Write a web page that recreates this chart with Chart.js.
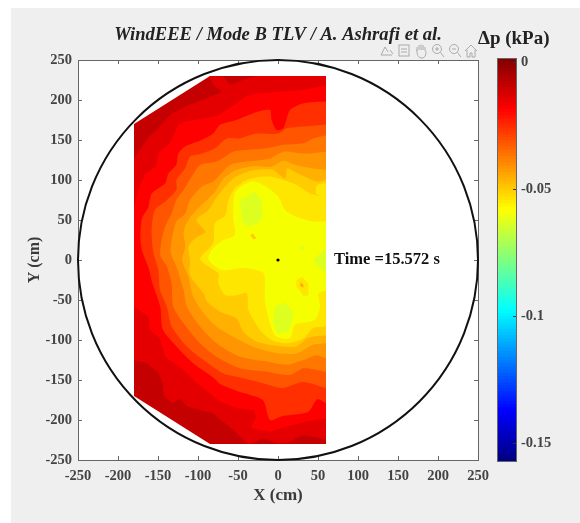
<!DOCTYPE html>
<html><head><meta charset="utf-8">
<script src="https://cdn.jsdelivr.net/npm/chart.js@4"></script>
<style>
html,body{margin:0;padding:0;background:#fff;width:580px;height:523px;overflow:hidden}
#bg{position:absolute;left:11px;top:8px;width:569px;height:515px;background:#efefef}
canvas{position:absolute;top:0;filter:blur(0.45px)}
#main{left:0}
#cbar{left:478px}
#tools{position:absolute;left:380px;top:43px;filter:blur(0.3px)}
</style></head><body>
<div id="bg"></div>
<canvas id="main" width="556" height="523" style="width:556px;height:523px"></canvas>
<canvas id="cbar" width="102" height="523" style="width:102px;height:523px"></canvas>
<svg id="tools" width="98" height="16" fill="none" stroke="#aaaaaa" stroke-width="1">
 <path d="M1 12 L5 4 L8 9 M1 12 H12 M10 7 l3 4"/>
 <g transform="translate(17,0)"><rect x="2" y="2" width="10" height="11"/><path d="M4 6H10M4 9H10"/></g>
 <g transform="translate(34,0)"><path d="M3 8 V4 M5 7 V2 M7 7 V1.5 M9 7 V2 M11 8 V4 M3 8 L2 7 M3 8 C3 13 5 15 8 15 C11 15 12 12 12 8"/></g>
 <g transform="translate(51,0)"><circle cx="6" cy="6" r="4.5"/><path d="M9.5 9.5L13 14M4 6H8M6 4V8"/></g>
 <g transform="translate(68,0)"><circle cx="6" cy="6" r="4.5"/><path d="M9.5 9.5L13 14M4 6H8"/></g>
 <g transform="translate(84,0)"><path d="M1 8 L7 2 L13 8 M3 7V14H6V10H8V14H11V7"/></g>
</svg>
<script>
// ---- text ----
const titleText = "WindEEE / Mode B TLV / A. Ashrafi et al.";
const xTitle = "X (cm)", yTitle = "Y (cm)", barTitle = "\u0394p (kPa)", timeText = "Time =15.572 s";
const timeAnchor = [70, 0];
const axisTicks = [-250,-200,-150,-100,-50,0,50,100,150,200,250];
const barTicks = [-0.15,-0.1,-0.05,0];
const centrePoint = [[0,0]];
const tunnelRadius = 250;

// ---- contour regions (x cm, y cm), lowest |dp| first ----
const bandA = [[-180,170],[-85,230],[60,230],[60,-230],[-85,-230],[-180,-170]];
const bandB = [[60,230],[-27,230],[-39,227],[-60,219],[-67.5,229],[-86,230],[-81,219],[-70,210],[-95,200],[-116,192],[-133,183],[-150,164.6],[-162,153],[-170,142],[-180,127],[-180,-125],[-164,-129],[-150,-140],[-144,-154],[-143,-169],[-133,-179],[-122.5,-173],[-114,-183],[-81,-192],[-72.5,-199],[-56,-212.5],[-37.5,-230],[-31,-229],[-19,-222.5],[-1,-229],[11,-229],[31,-219],[49,-222],[60,-225]];
const bandC = [[60,217.5],[27.5,212.5],[-1.7,210],[-27,208],[-41,204],[-58,192],[-74.6,181],[-93,177],[-116,173],[-124.6,169],[-135,146],[-150,133],[-152,117],[-166,108],[-175,87.5],[-180,65],[-180,-58],[-162,-71],[-160,-87.5],[-147.5,-98],[-141,-121],[-122,-134],[-100,-155],[-72.5,-177],[-52,-185],[-31,-187.5],[-27.5,-196],[-34,-210],[-10,-214.6],[11,-208],[36,-202],[60,-198]];
const bandD = [[60,198],[32,196],[15,187.5],[6.7,164.6],[-1.7,162.5],[-8,175],[-10,187.5],[-27,185],[-52,175],[-72.5,169],[-81,158],[-95.4,150],[-116,142],[-124.6,133],[-127,119],[-137,108],[-141,96],[-158,83],[-162,66],[-170,52],[-172,29],[-170,12],[-162,-9],[-157,-29],[-147,-59],[-144,-87],[-126,-109],[-106,-129],[-81,-147],[-72.5,-155],[-47.5,-165],[-19,-175],[-10,-200],[6,-195],[37.5,-190],[49,-174],[60,-179]];
const bandE = [[60,169],[40,167.5],[11,164.6],[0.4,158],[-27,158],[-47.5,152],[-64,152],[-79,139.6],[-95,133],[-110,129],[-116,114.6],[-127,100],[-127,87.5],[-141,73],[-154,62.5],[-158,37.5],[-156,10],[-149.6,-12.5],[-147.5,-37.5],[-139,-58],[-133,-83],[-114,-108],[-93,-125],[-68,-142],[-47.5,-147],[-19,-154],[6,-160],[31,-152.5],[60,-160]];
const bandF = [[60,156],[44,152],[32,146],[6.7,144],[-14,139.6],[-39,137.5],[-56,135.4],[-76.7,123],[-97.5,118.7],[-108,104],[-118,87.5],[-127,75],[-133,58],[-141,41.6],[-145.4,25],[-147,5],[-139,-8],[-133,-29],[-131,-58],[-118,-79],[-97.5,-104],[-76.7,-121],[-47.5,-135.4],[-14,-139.6],[15,-143.8],[32,-135.4],[60,-139.6]];
const bandG = [[60,135.4],[32,133],[6.7,135.4],[-10,127],[-39,123],[-60,118.7],[-81,98],[-95.4,91.7],[-110,75],[-116,58],[-127,48],[-133,25],[-134,8],[-127,-8],[-118,-37.5],[-114,-58],[-97.5,-83],[-76.7,-104],[-47.5,-121],[-14,-127],[11,-131],[32,-125],[48,-119],[60,-123]];
const bandH = [[60,112.5],[42,114.6],[21,119],[6.7,124],[-8,116.7],[-29,117.5],[-52,112.5],[-68,102],[-79,85],[-89,75],[-102,62.5],[-112,50],[-118,35],[-116,16.7],[-120,0],[-112,-21],[-106,-46],[-91,-69],[-77,-83],[-52,-98],[-27,-110],[2.5,-117],[23,-117],[44,-106],[60,-104]];
const bandI = [[60,100],[48,98],[34,104],[21,110],[11.7,114.6],[8.8,102],[-6,112.5],[-22.5,113],[-39,110],[-56,102],[-68,89.6],[-79,75],[-87,62.5],[-102,50],[-91,35],[-104,27],[-112,16.7],[-110,0],[-110,-19],[-93,-42],[-89,-52],[-72.5,-64.6],[-52,-73],[-43,-90],[-27,-102],[-1.7,-107.5],[23,-108],[38,-97],[60,-94]];
const bandJ = [[60,96],[49,94],[47.5,83],[52.5,80],[40,83],[23,94],[6.7,100],[-8,104],[-22.5,104],[-39,100],[-54,89.6],[-62,75],[-66,56],[-79,46],[-81,21],[-97.5,1],[-74.6,-16.7],[-74.6,-29],[-66,-44],[-52,-44],[-39,-41.7],[-37,-62.5],[-22.5,-87.5],[-8,-100],[11,-104],[31.7,-98],[44,-85],[60,-83]];
const bandK = [[60,48],[44,48],[23,54],[8.8,62.5],[0.4,79],[-12,89.6],[-29,98],[-43,94],[-54,83],[-56,54],[-54,31],[-68,25],[-81,14.6],[-87,1],[-70,-12.5],[-43,-10],[-18,-16.7],[-16,-54],[-4,-94],[15,-98],[21,-81],[46,-75],[52.5,-58],[50.4,-41.7],[60,-38]];
const patchUpper = [[-47.5,75],[-29,85.4],[-20,73],[-19,54],[-24.6,46],[-37,41.7],[-45,48]];
const patchLower = [[-4,-58],[8.8,-53],[19,-64.6],[17,-79],[13,-89.6],[-1.7,-91.7],[-6,-77]];
const patchRight = [[60,14.6],[48,4],[44,0],[50,-8],[60,-17]];
const patchTiny = [[27,16],[31,18],[34,15],[30,12]];
const spotUpper = [[-35,31],[-31,33],[-27,27],[-31,26]];
const spotOuter = [[23,-25],[30,-21],[38,-29],[38,-44],[32,-45],[23,-33]];
const spotMid = [[27.5,-27],[32.5,-31],[31.7,-35],[27.5,-32.5]];
const spotCore = [[29,-29],[31.5,-32],[30,-34],[28,-31]];

const regions = [
 [bandA,'#c40000',0],[bandB,'#e40000',0],[bandC,'#ff0000',0],[bandD,'#ff2f00',0.25],[bandE,'#ff5500',0.25],
 [bandF,'#ff7700',0.25],[bandG,'#ff9500',0.25],[bandH,'#ffb000',0.25],[bandI,'#ffcc00',0.25],[bandJ,'#ffe600',0.25],
 [bandK,'#f6ff00',0.25],[patchUpper,'#dcff20',0],[patchLower,'#dcff20',0],[patchRight,'#dcff20',0],
 [patchTiny,'#dcff20',0],[spotUpper,'#ffcc00',0],[spotOuter,'#ffe600',0],[spotMid,'#ffcc00',0],[spotCore,'#ffa000',0]
];
const toPts = a => a.map(p => ({x:p[0], y:p[1]}));

const serif = "'Liberation Serif','DejaVu Serif',serif";
const tickGrey = '#444444', axisGrey = '#666666';

const mainPlugin = {
 id:'mainDecor',
 beforeDraw(c){
  const a=c.chartArea, g=c.ctx;
  g.save(); g.fillStyle='#fff'; g.fillRect(a.left,a.top,a.width,a.height); g.restore();
 },
 afterDatasetsDraw(c){
  const g=c.ctx, X=c.scales.x, Y=c.scales.y;
  g.save();
  g.strokeStyle='#111'; g.lineWidth=2;
  g.beginPath();
  g.arc(X.getPixelForValue(0),Y.getPixelForValue(0),X.getPixelForValue(tunnelRadius)-X.getPixelForValue(0),0,Math.PI*2);
  g.stroke();
  g.fillStyle='#111'; g.font="bold 16.5px "+serif; g.textAlign='left'; g.textBaseline='middle';
  g.fillText(timeText,X.getPixelForValue(timeAnchor[0]),Y.getPixelForValue(timeAnchor[1]));
  g.restore();
 }
};
const mkAxis = (extra)=>Object.assign({
  min:-250,max:250,
  afterBuildTicks:s=>{s.ticks=axisTicks.map(v=>({value:v}));},
  border:{color:axisGrey,width:1},
  grid:{drawOnChartArea:false,color:axisGrey,tickLength:-4,tickWidth:1}
},extra);

new Chart(document.getElementById('main'),{
 type:'scatter',
 data:{datasets:[
  ...regions.map((r,i)=>({data:toPts(r[0]),showLine:true,fill:'shape',backgroundColor:r[1],borderWidth:0,borderColor:r[1],pointRadius:0,tension:r[2],order:100-i})),
  {data:toPts(centrePoint),pointRadius:1.6,pointBackgroundColor:'#000',pointBorderWidth:0,showLine:false,order:0}
 ]},
 options:{
  responsive:false,animation:false,
  layout:{padding:0},
  plugins:{
   legend:{display:false},tooltip:{enabled:false},
   title:{display:true,text:titleText,color:'#222',font:{family:serif,size:18.6,weight:'bold',style:'italic'},padding:{top:24,bottom:13.7}}
  },
  scales:{
   x:mkAxis({position:'bottom',afterFit:s=>{s.height=63;},
     ticks:{color:tickGrey,font:{family:serif,size:14.5,weight:'bold'},padding:12,maxRotation:0,autoSkip:false},
     title:{display:true,text:xTitle,color:'#3a3a3a',font:{family:serif,size:17,weight:'bold'},padding:{top:0,bottom:17}}}),
   y:mkAxis({position:'left',afterFit:s=>{s.width=78;},
     ticks:{color:tickGrey,font:{family:serif,size:14.5,weight:'bold'},padding:10,autoSkip:false},
     title:{display:true,text:yTitle,color:'#3a3a3a',font:{family:serif,size:16,weight:'bold'},padding:{top:25,bottom:0}}}),
   x2:mkAxis({position:'top',afterFit:s=>{s.height=0;},ticks:{display:false}}),
   y2:mkAxis({position:'right',afterFit:s=>{s.width=78;},ticks:{display:false}})
  }
 },
 plugins:[mainPlugin]
});

// ---- colour bar ----
const barTop = 0.0012, barBottom = -0.157;
const jetStops = ['#800000','#ff0000','#ffff00','#00ffff','#0000ff','#000080'];
const jetPos = [0,0.125,0.375,0.625,0.875,1];
const barSteps = 128;
function hex(c){return [1,3,5].map(i=>parseInt(c.substr(i,2),16));}
function jetAt(t){
 let k=0; while(k<jetPos.length-2 && t>jetPos[k+1])k++;
 const f=(t-jetPos[k])/(jetPos[k+1]-jetPos[k]),a=hex(jetStops[k]),b=hex(jetStops[k+1]);
 return 'rgb('+a.map((v,i)=>Math.round(v+(b[i]-v)*f)).join(',')+')';
}
const barSets=[];
for(let i=0;i<barSteps;i++){
 const t=i/barSteps;
 barSets.push({data:[[barBottom,barTop+(barBottom-barTop)*t]],backgroundColor:jetAt(t+0.5/barSteps),borderWidth:0,grouped:false,barPercentage:1,categoryPercentage:1,order:barSteps-i,xAxisID:'x',yAxisID:'y'});
}
const framePlugin={id:'frame',afterDatasetsDraw(c){
 const a=c.chartArea,g=c.ctx;
 g.save();g.strokeStyle=axisGrey;g.lineWidth=1;
 g.strokeRect(a.left-0.5,a.top-0.5,a.width+1,a.height+1);
 g.strokeStyle='#333';
 c.scales.y.ticks.forEach(t=>{const p=Math.round(c.scales.y.getPixelForValue(t.value))+0.5;g.beginPath();g.moveTo(a.right-3,p);g.lineTo(a.right,p);g.stroke();});
 g.restore();
}};
new Chart(document.getElementById('cbar'),{
 type:'bar',
 data:{labels:[''],datasets:barSets},
 options:{
  responsive:false,animation:false,
  layout:{padding:{top:0,right:0,bottom:62,left:0}},
  plugins:{legend:{display:false},tooltip:{enabled:false},
   title:{display:true,text:barTitle,align:'start',color:'#222',font:{family:serif,size:19,weight:'bold'},padding:{top:28,bottom:8.2}}},
  scales:{
   x:{display:false,offset:true,grid:{display:false}},
   pad:{type:'linear',position:'left',afterFit:s=>{s.width=20;},ticks:{display:false},grid:{display:false},border:{display:false}},
   y:{type:'linear',position:'right',min:barBottom,max:barTop,afterFit:s=>{s.width=64;},
      afterBuildTicks:s=>{s.ticks=barTicks.map(v=>({value:v}));},
      border:{display:false},grid:{display:false,drawTicks:false},
      ticks:{color:tickGrey,font:{family:serif,size:14.5,weight:'bold'},padding:5,autoSkip:false,callback:v=>String(v)}}
  }
 },
 plugins:[framePlugin]
});
</script>
</body></html>
